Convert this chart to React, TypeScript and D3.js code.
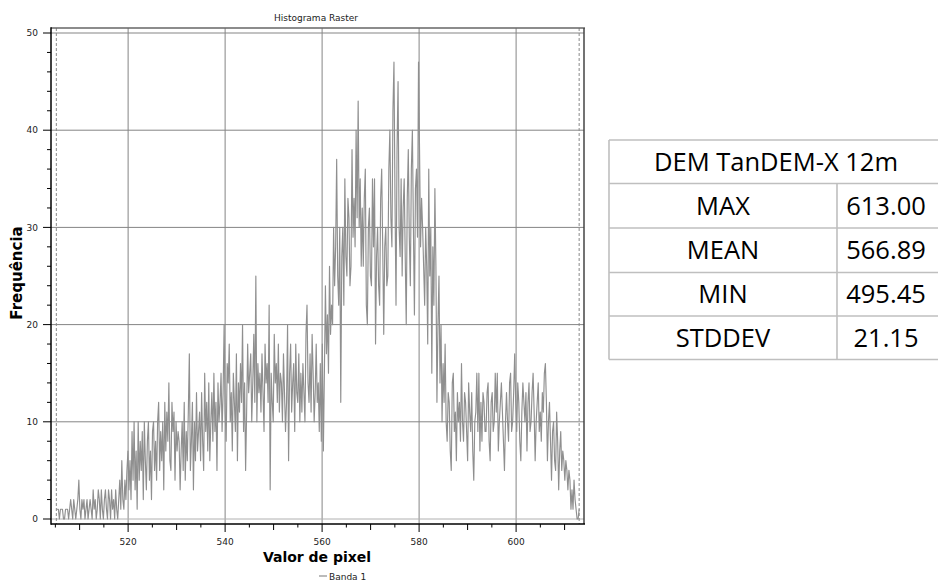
import React from "react";
import * as d3 from "d3";

// ---- data (frequency per bin) ----
const counts: number[] = [
  1, 1, 1, 0, 1, 1, 1, 0, 0, 1, 1, 1, 0, 1, 2, 1, 0, 2, 1, 0,
  1, 2, 4, 1, 0, 2, 1, 2, 0, 1, 2, 0, 1, 2, 1, 0, 3, 1, 2, 0,
  1, 3, 2, 0, 3, 1, 0, 2, 3, 1, 0, 3, 2, 0, 3, 1, 2, 0, 3, 1,
  0, 2, 4, 1, 6, 2, 1, 4, 2, 5, 7, 3, 6, 2, 9, 4, 10, 3, 7, 1,
  10, 4, 8, 5, 9, 2, 10, 6, 3, 8, 10, 4, 7, 2, 9, 10, 5, 8, 4, 10,
  12, 5, 9, 6, 10, 3, 12, 7, 11, 8, 14, 6, 5, 12, 9, 11, 4, 10, 7, 9,
  8, 3, 7, 10, 5, 12, 4, 9, 6, 11, 17, 5, 8, 12, 3, 10, 6, 13, 7, 9,
  11, 6, 13, 8, 5, 15, 9, 12, 7, 14, 6, 10, 13, 8, 15, 9, 12, 5, 14, 10,
  12, 15, 9, 13, 20, 11, 8, 16, 14, 18, 10, 13, 7, 15, 12, 9, 17, 6, 14, 11,
  16, 12, 20, 9, 14, 5, 11, 18, 13, 15, 17, 10, 14, 19, 12, 25, 10, 16, 13, 15,
  11, 17, 13, 9, 18, 14, 16, 12, 22, 3, 15, 12, 10, 19, 14, 16, 12, 18, 11, 15,
  14, 10, 17, 13, 9, 12, 20, 6, 15, 18, 11, 14, 16, 9, 18, 13, 12, 17, 10, 15,
  11, 16, 13, 10, 19, 22, 14, 12, 17, 11, 19, 15, 10, 13, 18, 12, 14, 9, 16, 8,
  18, 7, 15, 24, 17, 21, 15, 26, 19, 22, 20, 30, 24, 28, 37, 25, 22, 30, 12, 27,
  30, 22, 35, 27, 25, 33, 31, 24, 26, 38, 29, 33, 28, 40, 31, 43, 30, 35, 26, 32,
  26, 33, 36, 22, 20, 30, 32, 25, 24, 35, 28, 35, 18, 27, 30, 24, 22, 33, 36, 28,
  19, 28, 30, 24, 25, 36, 40, 31, 28, 42, 47, 33, 22, 38, 45, 30, 27, 35, 25, 32,
  35, 27, 20, 33, 38, 29, 24, 36, 40, 30, 21, 34, 36, 29, 47, 38, 28, 33, 30, 26,
  22, 30, 26, 18, 36, 25, 30, 15, 28, 22, 34, 26, 12, 20, 25, 14, 20, 10, 16, 12,
  18, 10, 8, 13, 12, 7, 5, 14, 15, 9, 11, 6, 13, 10, 12, 8, 16, 10, 8, 13,
  12, 9, 6, 14, 11, 9, 13, 7, 4, 10, 11, 15, 9, 15, 7, 12, 8, 13, 12, 9,
  9, 13, 14, 8, 6, 12, 13, 9, 10, 15, 11, 15, 7, 10, 12, 14, 11, 8, 5, 10,
  13, 10, 8, 14, 15, 9, 10, 13, 17, 12, 9, 14, 12, 8, 6, 11, 14, 12, 10, 13,
  7, 12, 14, 9, 10, 13, 15, 11, 6, 10, 12, 14, 9, 11, 8, 13, 11, 15, 16, 12,
  6, 10, 12, 8, 4, 9, 10, 6, 5, 11, 8, 3, 7, 9, 5, 7, 6, 4, 6, 5,
  3, 5, 4, 1, 3, 1, 4, 2, 1, 0, 0, 1,
];
const histRange: number[] = [505.2, 613.0];
const xDomain: number[] = [504.1, 614.0];
const yDomain: number[] = [0, 50];
const xTicks: number[] = [520, 540, 560, 580, 600];
const yTicks: number[] = [0, 10, 20, 30, 40, 50];
const tableTitle = "DEM TanDEM-X 12m";
const statNames: string[] = ["MAX", "MEAN", "MIN", "STDDEV"];
const statValues: string[] = ["613.00", "566.89", "495.45", "21.15"];

// ---- layout ----
const W = 938, H = 585;
const L = 51, R = 584, T = 28, B = 524;
const FONT = "'DejaVu Sans', Verdana, sans-serif";
const TFONT = "'Open Sans', sans-serif";

export default function App() {
  const x = d3.scaleLinear().domain(xDomain).range([L, R]);
  const y = d3.scaleLinear().domain(yDomain).range([519, 33]);
  const binW = (histRange[1] - histRange[0]) / (counts.length - 1);
  const pts: [number, number][] = counts.map((c, i) => [histRange[0] + i * binW, c]);
  const line = d3.line<[number, number]>().x(d => x(d[0])).y(d => y(d[1]));

  const minor5 = d3.range(505, 614, 5);
  const minorY = d3.range(0, 51, 2);

  const rowsY = [140, 183.5, 228, 272.5, 316, 359.5];
  const tL = 609, tM = 837, tR = 942;
  const tc = "#bfbfbf";

  return (
    <svg width={W} height={H} style={{ position: "absolute", left: 0, top: 0, background: "#fff" }}>
      <rect x={0} y={0} width={W} height={H} fill="#fff" />
      {/* title */}
      <text x={316} y={21} fontFamily={FONT} fontSize={9} textAnchor="middle" fill="#222">Histograma Raster</text>
      {/* grid */}
      {xTicks.map(t => (
        <line key={"gx" + t} x1={x(t)} x2={x(t)} y1={T} y2={B} stroke="#858585" strokeWidth={1} />
      ))}
      {yTicks.map(t => (
        <line key={"gy" + t} x1={L} x2={R} y1={y(t)} y2={y(t)} stroke={t === 0 ? "#b0b0b0" : "#858585"} strokeWidth={1} />
      ))}
      {/* min/max markers */}
      {histRange.map((v, i) => (
        <line key={"m" + i} x1={x(v)} x2={x(v)} y1={T} y2={B} stroke="#8a8a8a" strokeWidth={1} strokeDasharray="3,2" />
      ))}
      {/* histogram */}
      <path d={line(pts) || ""} fill="none" stroke="#8f8f8f" strokeWidth={1.15} strokeLinejoin="round" />
      {/* frame */}
      <line x1={L} x2={R + 1} y1={T} y2={T} stroke="#666" strokeWidth={1.5} />
      <line x1={R} x2={R} y1={T} y2={B} stroke="#444" strokeWidth={1.5} />
      <line x1={L} x2={L} y1={T - 0.7} y2={B + 0.7} stroke="#000" strokeWidth={1.5} />
      <line x1={L} x2={R + 1} y1={B} y2={B} stroke="#000" strokeWidth={1.5} />
      {/* y ticks */}
      {minorY.map(t => (
        <line key={"ym" + t} x1={t % 10 === 0 ? L - 8 : L - 4} x2={L} y1={y(t)} y2={y(t)} stroke="#000" strokeWidth={1} />
      ))}
      {yTicks.map(t => (
        <text key={"yl" + t} x={38} y={y(t)} dy="0.35em" fontFamily={FONT} fontSize={9} textAnchor="end" fill="#222">{t}</text>
      ))}
      {/* x ticks */}
      {minor5.map(t => {
        const len = t % 20 === 0 ? 8 : t % 10 === 0 ? 6 : 3.5;
        return <line key={"xm" + t} x1={x(t)} x2={x(t)} y1={B} y2={B + len} stroke="#000" strokeWidth={1} />;
      })}
      {xTicks.map(t => (
        <text key={"xl" + t} x={x(t)} y={545} fontFamily={FONT} fontSize={9} textAnchor="middle" fill="#222">{t}</text>
      ))}
      {/* axis titles */}
      <text x={317} y={562} fontFamily={FONT} fontSize={14} fontWeight="bold" textAnchor="middle" fill="#000">Valor de pixel</text>
      <text transform={`translate(22,273) rotate(-90)`} fontFamily={FONT} fontSize={15} fontWeight="bold" textAnchor="middle" fill="#000">Frequência</text>
      {/* legend */}
      <line x1={319} x2={327} y1={576} y2={576} stroke="#8e8e8e" strokeWidth={1.2} />
      <text x={329} y={579.5} fontFamily={FONT} fontSize={9} fill="#222">Banda 1</text>
      {/* table */}
      {rowsY.map((ry, i) => (
        <line key={"tr" + i} x1={tL} x2={tR} y1={ry} y2={ry} stroke={tc} strokeWidth={1.6} />
      ))}
      <line x1={tL} x2={tL} y1={rowsY[0]} y2={rowsY[5]} stroke={tc} strokeWidth={1.6} />
      <line x1={tM} x2={tM} y1={rowsY[1]} y2={rowsY[5]} stroke={tc} strokeWidth={1.6} />
      <text x={776} y={(rowsY[0] + rowsY[1]) / 2} dy="0.36em" fontFamily={TFONT} fontSize={25.5} textAnchor="middle" fill="#000">{tableTitle}</text>
      {statNames.map((n, i) => (
        <text key={"sn" + i} x={(tL + tM) / 2} y={(rowsY[i + 1] + rowsY[i + 2]) / 2} dy="0.36em" fontFamily={TFONT} fontSize={25.5} textAnchor="middle" fill="#000">{n}</text>
      ))}
      {statValues.map((v, i) => (
        <text key={"sv" + i} x={886} y={(rowsY[i + 1] + rowsY[i + 2]) / 2} dy="0.36em" fontFamily={TFONT} fontSize={25.5} textAnchor="middle" fill="#000">{v}</text>
      ))}
    </svg>
  );
}
